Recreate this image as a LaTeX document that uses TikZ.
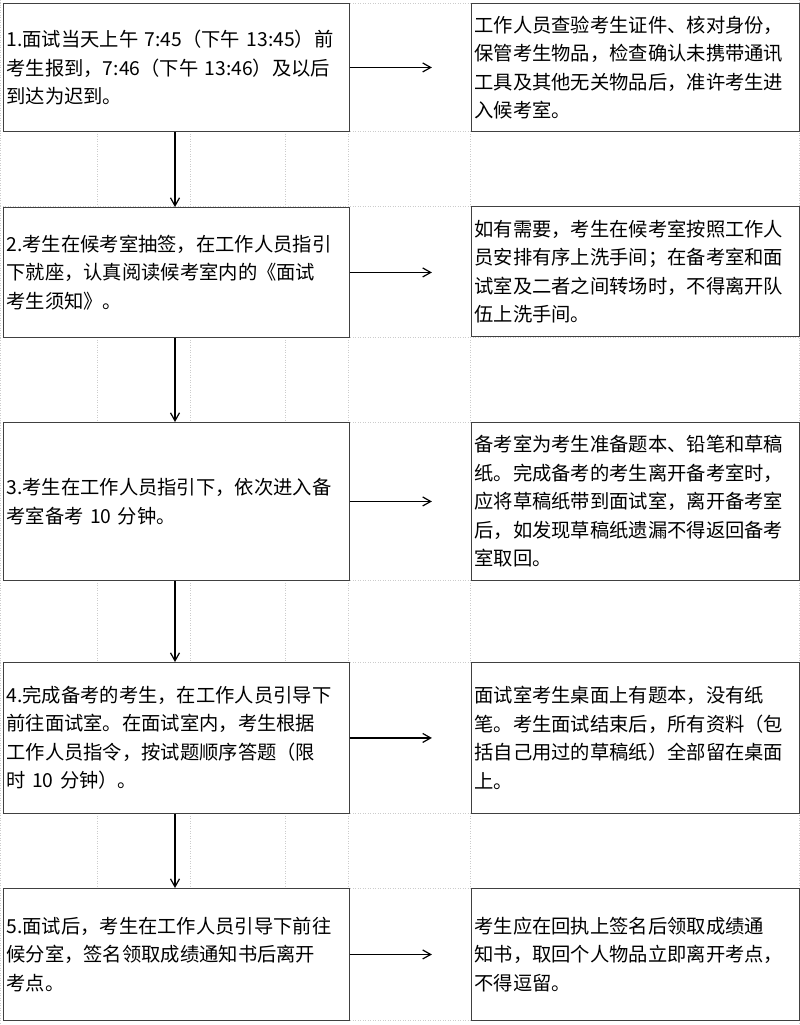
\documentclass[tikz,border=0pt]{standalone}
\usepackage{fontspec}
\setmainfont{Noto Sans CJK SC}
\usetikzlibrary{arrows.meta}
\begin{document}
\begin{tikzpicture}[x=1pt,y=-1pt,
 box/.style={draw=black!75,line width=0.9pt,anchor=north west,align=left,inner xsep=3pt,inner ysep=0pt,font=\fontsize{19.3}{28.5}\selectfont},
 grid/.style={draw=black!20,dotted,line width=0.5pt},
 arr/.style={-{Straight Barb[length=8pt,width=9pt]},line width=1.2pt}]
\useasboundingbox (0,0) rectangle (800,1025);
% grid
\foreach \y in {3,131,206,337,422,580,662,813,888,1020}{\draw[grid] (0,\y) -- (800,\y);}
\foreach \a/\b in {131/206,337/422,580/662,813/888}{
 \foreach \x in {97,190,285,348,470}{\draw[grid] (\x,\a) -- (\x,\b);}}
\foreach \x in {0,799}{\draw[grid] (\x,0) -- (\x,1025);}
% left boxes
\node[box,minimum width=344pt,minimum height=128pt,text width=340pt] (l1) at (3,3) {1.面试当天上午 7:45（下午 13:45）前\\考生报到，7:46（下午 13:46）及以后\\到达为迟到。};
\node[box,minimum width=344pt,minimum height=130pt,text width=340pt] (l2) at (3,207) {2.考生在候考室抽签，在工作人员指引\\下就座，认真阅读候考室内的《面试\\考生须知》。};
\node[box,minimum width=344pt,minimum height=158pt,text width=340pt] (l3) at (3,422) {3.考生在工作人员指引下，依次进入备\\考室备考 10 分钟。};
\node[box,minimum width=344pt,minimum height=151pt,text width=340pt] (l4) at (3,662) {4.完成备考的考生，在工作人员引导下\\前往面试室。在面试室内，考生根据\\工作人员指令，按试题顺序答题（限\\时 10 分钟）。};
\node[box,minimum width=344pt,minimum height=132pt,text width=340pt] (l5) at (3,888) {5.面试后，考生在工作人员引导下前往\\候分室，签名领取成绩通知书后离开\\考点。};
% right boxes
\node[box,minimum width=326pt,minimum height=128pt,text width=322pt] (r1) at (471,3) {工作人员查验考生证件、核对身份，\\保管考生物品，检查确认未携带通讯\\工具及其他无关物品后，准许考生进\\入候考室。};
\node[box,minimum width=326pt,minimum height=130pt,text width=322pt] (r2) at (471,206) {如有需要，考生在候考室按照工作人\\员安排有序上洗手间；在备考室和面\\试室及二者之间转场时，不得离开队\\伍上洗手间。};
\node[box,minimum width=326pt,minimum height=158pt,text width=322pt] (r3) at (471,422) {备考室为考生准备题本、铅笔和草稿\\纸。完成备考的考生离开备考室时，\\应将草稿纸带到面试室，离开备考室\\后，如发现草稿纸遗漏不得返回备考\\室取回。};
\node[box,minimum width=326pt,minimum height=151pt,text width=322pt] (r4) at (471,662) {面试室考生桌面上有题本，没有纸\\笔。考生面试结束后，所有资料（包\\括自己用过的草稿纸）全部留在桌面\\上。};
\node[box,minimum width=326pt,minimum height=132pt,text width=322pt] (r5) at (471,888) {考生应在回执上签名后领取成绩通\\知书，取回个人物品立即离开考点，\\不得逗留。};
% arrows
\foreach \i in {1,...,5}{\draw[arr] (l\i.east) -- +(82,0) coordinate (c\i);}
\draw[arr] (l1.south -| 175,0) -- (l2.north -| 175,0);
\draw[arr] (l2.south -| 175,0) -- (l3.north -| 175,0);
\draw[arr] (l3.south -| 175,0) -- (l4.north -| 175,0);
\draw[arr] (l4.south -| 175,0) -- (l5.north -| 175,0);
\end{tikzpicture}
\end{document}
